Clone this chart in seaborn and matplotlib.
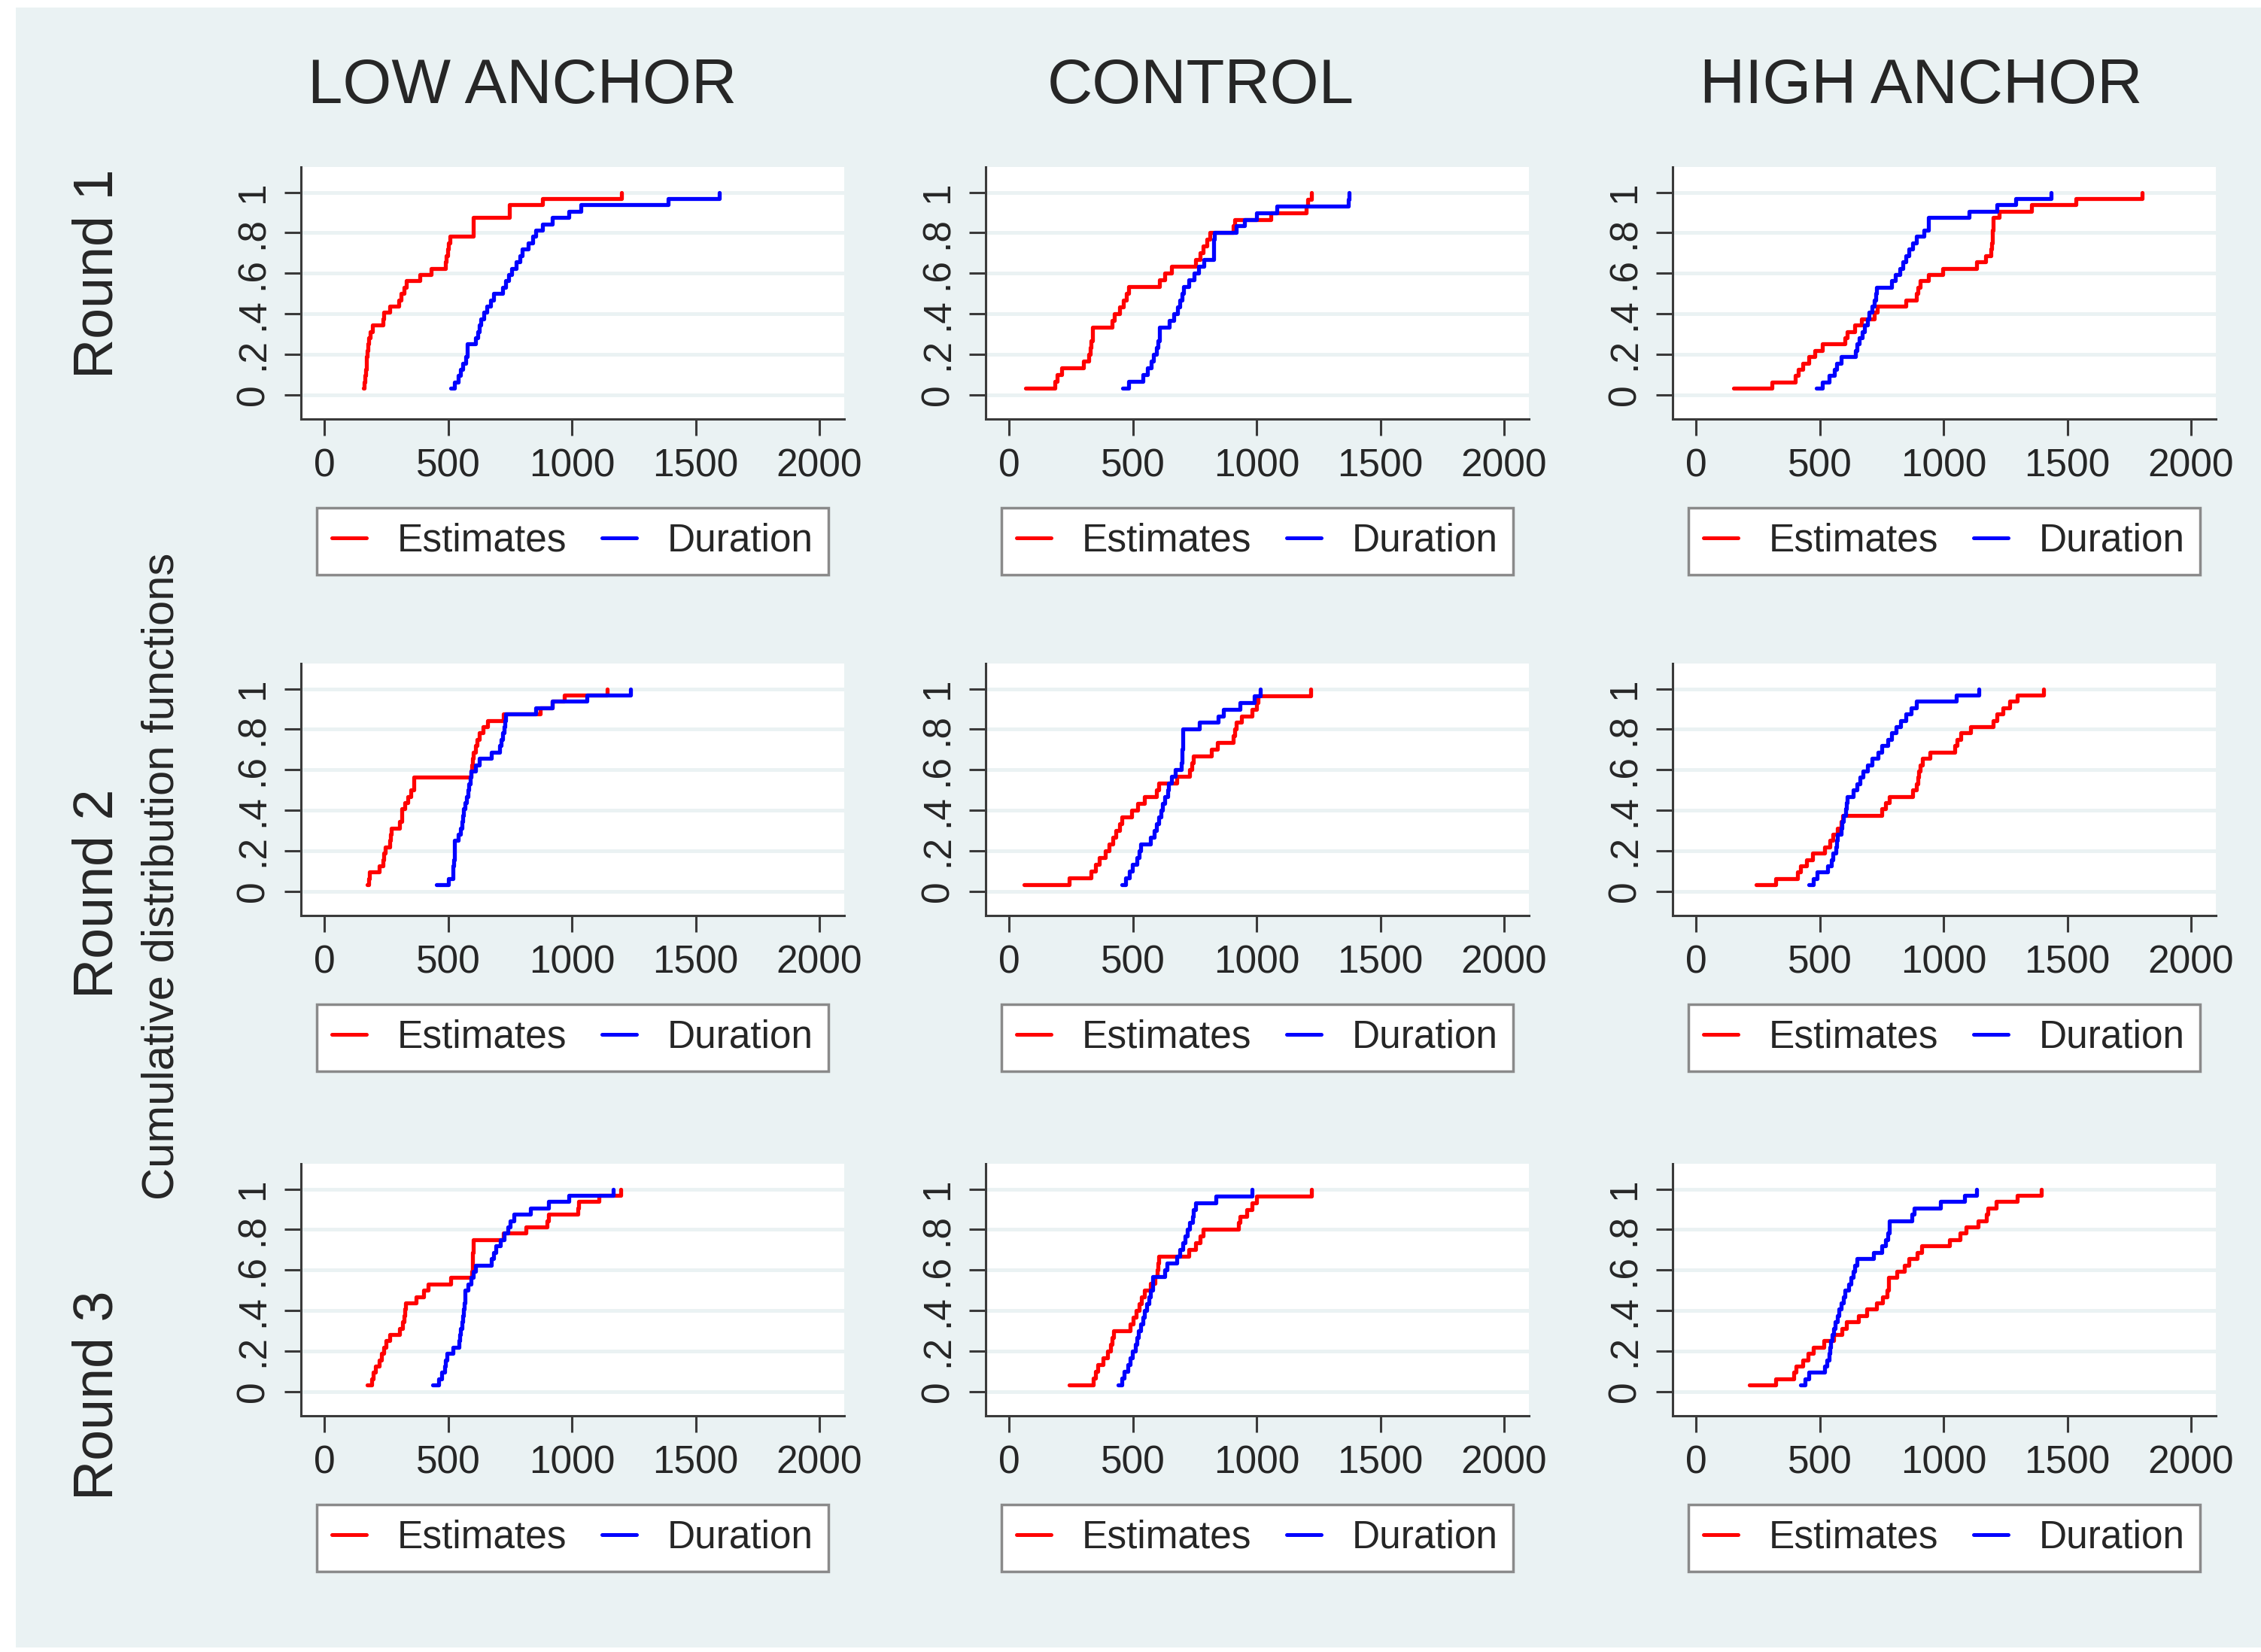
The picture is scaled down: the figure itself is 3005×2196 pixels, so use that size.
import numpy as np
import pandas as pd
import seaborn as sns
import matplotlib.pyplot as plt
from matplotlib.patches import Rectangle
from matplotlib.lines import Line2D

treatments = ["LOW ANCHOR", "CONTROL", "HIGH ANCHOR"]
rounds = ["Round 1", "Round 2", "Round 3"]
series_names = ["Estimates", "Duration"]
x_ticks = [0, 500, 1000, 1500, 2000]
y_ticks = [0, 0.2, 0.4, 0.6, 0.8, 1]
y_tick_labels = ["0", ".2", ".4", ".6", ".8", "1"]

# sorted values (one list per curve)
low_r1_est = [156, 160, 163, 165, 168, 170, 172, 175, 180, 185, 195, 235, 240, 265, 300, 310,
              320, 330, 385, 430, 490, 493, 497, 502, 506, 600, 600, 600, 748, 748, 880, 1200]
low_r1_dur = [510, 525, 540, 551, 560, 570, 576, 576, 610, 618, 626, 633, 645, 655, 671, 683,
              720, 732, 745, 757, 775, 790, 798, 822, 840, 855, 880, 921, 987, 1036, 1390, 1595]
ctl_r1_est = [66, 184, 195, 213, 300, 320, 328, 332, 336, 336, 415, 426, 445, 460, 475,
              484, 607, 630, 656, 754, 770, 785, 800, 811, 905, 910, 1057, 1200, 1205, 1221]
ctl_r1_dur = [459, 484, 541, 560, 575, 582, 595, 600, 607, 607, 648, 665, 680, 690, 700,
              705, 725, 746, 765, 787, 825, 826, 827, 828, 918, 951, 1000, 1082, 1369, 1374]
high_r1_est = [151, 307, 400, 413, 430, 454, 480, 511, 602, 610, 640, 667, 720, 733, 848, 889,
               895, 905, 938, 995, 1134, 1170, 1192, 1195, 1197, 1198, 1200, 1200, 1225, 1356, 1536, 1803]
high_r1_dur = [487, 511, 536, 560, 569, 585, 643, 650, 659, 670, 680, 692, 700, 710, 720, 725,
               730, 790, 805, 823, 835, 848, 860, 875, 889, 921, 938, 938, 1102, 1216, 1290, 1434]

low_r2_est = [173, 178, 181, 222, 235, 240, 247, 265, 268, 271, 304, 312, 312, 325, 337, 350,
              362, 362, 592, 596, 598, 600, 610, 615, 625, 640, 658, 724, 872, 921, 970, 1143]
low_r2_dur = [452, 502, 518, 520, 522, 524, 525, 526, 540, 551, 556, 560, 563, 567, 575, 580,
              584, 588, 592, 610, 625, 674, 707, 715, 720, 725, 728, 732, 855, 921, 1061, 1237]
ctl_r2_est = [61, 241, 330, 348, 365, 389, 405, 418, 430, 445, 455, 496, 520, 545, 595,
              603, 677, 730, 737, 743, 817, 842, 905, 910, 916, 940, 981, 1000, 1005, 1218]
ctl_r2_dur = [456, 470, 485, 498, 515, 525, 531, 571, 585, 595, 605, 612, 620, 630, 640,
              645, 655, 670, 694, 697, 700, 702, 703, 703, 768, 845, 867, 932, 990, 1014]
high_r2_est = [241, 323, 410, 421, 445, 470, 520, 540, 552, 570, 585, 593, 749, 765, 782, 875,
               889, 895, 900, 905, 913, 946, 1044, 1055, 1069, 1110, 1200, 1216, 1240, 1266, 1298, 1405]
high_r2_dur = [456, 475, 489, 530, 545, 554, 565, 568, 571, 585, 590, 595, 603, 607, 611, 636,
               650, 661, 675, 693, 710, 734, 750, 775, 790, 807, 825, 848, 870, 889, 1052, 1143]

low_r3_est = [173, 190, 197, 206, 220, 230, 239, 250, 263, 304, 315, 320, 325, 329, 370, 400,
              419, 510, 595, 597, 598, 599, 600, 600, 724, 814, 900, 904, 1025, 1028, 1110, 1197]
low_r3_dur = [436, 461, 475, 485, 490, 494, 520, 543, 547, 551, 555, 558, 561, 564, 567, 567,
              580, 592, 600, 609, 675, 683, 691, 710, 725, 740, 750, 765, 831, 904, 987, 1168]
ctl_r3_est = [242, 340, 350, 357, 380, 398, 410, 415, 423, 488, 500, 513, 525, 535, 546,
              571, 590, 597, 600, 603, 727, 752, 770, 784, 925, 933, 960, 981, 998, 1220]
ctl_r3_dur = [441, 455, 465, 480, 490, 498, 510, 516, 522, 530, 539, 547, 555, 565, 572,
              580, 580, 630, 637, 678, 690, 702, 710, 719, 730, 740, 745, 752, 834, 981]
high_r3_est = [215, 321, 395, 405, 430, 451, 475, 516, 557, 590, 606, 655, 688, 729, 754, 770,
               779, 779, 811, 840, 861, 893, 910, 1025, 1066, 1090, 1139, 1172, 1180, 1213, 1298, 1396]
high_r3_dur = [421, 440, 454, 520, 528, 536, 540, 544, 550, 556, 561, 570, 578, 585, 595, 602,
               615, 625, 634, 642, 651, 716, 749, 766, 775, 782, 782, 872, 880, 987, 1085, 1134]

panels = {
    ("LOW ANCHOR", "Round 1"): (low_r1_est, low_r1_dur),
    ("CONTROL", "Round 1"): (ctl_r1_est, ctl_r1_dur),
    ("HIGH ANCHOR", "Round 1"): (high_r1_est, high_r1_dur),
    ("LOW ANCHOR", "Round 2"): (low_r2_est, low_r2_dur),
    ("CONTROL", "Round 2"): (ctl_r2_est, ctl_r2_dur),
    ("HIGH ANCHOR", "Round 2"): (high_r2_est, high_r2_dur),
    ("LOW ANCHOR", "Round 3"): (low_r3_est, low_r3_dur),
    ("CONTROL", "Round 3"): (ctl_r3_est, ctl_r3_dur),
    ("HIGH ANCHOR", "Round 3"): (high_r3_est, high_r3_dur),
}

rows = []
for (treat, rnd), pair in panels.items():
    for name, vals in zip(series_names, pair):
        vals = np.sort(np.asarray(vals, dtype=float))
        n = len(vals)
        for i, v in enumerate(vals):
            rows.append((treat, rnd, name, v, (i + 1) / n))
df = pd.DataFrame(rows, columns=["treatment", "round", "series", "value", "cdf"])

sns.set_style("white")
plt.rcParams["font.family"] = ["Liberation Sans", "DejaVu Sans"]

W, H = 3005, 2196
BG = "#EAF2F3"
AX = "#3a3a3a"
palette = {"Estimates": "#FF0000", "Duration": "#0000FF"}

fig = plt.figure(figsize=(W / 100, H / 100), dpi=100)
fig.patch.set_facecolor("white")
fig.patches.append(Rectangle((21 / W, 6 / H), (W - 21) / W, (H - 16) / H,
                             transform=fig.transFigure, facecolor=BG, edgecolor="none", zorder=-10))

col_left = [400, 1310, 2223]
row_top = [222, 882, 1547]
ax_w, ax_h = 722, 335

for r, rnd in enumerate(rounds):
    for c, treat in enumerate(treatments):
        ax = fig.add_axes([col_left[c] / W, 1 - (row_top[r] + ax_h) / H, ax_w / W, ax_h / H])
        ax.set_facecolor("white")
        sub = df[(df["treatment"] == treat) & (df["round"] == rnd)]
        sns.lineplot(data=sub, x="value", y="cdf", hue="series", palette=palette,
                     hue_order=series_names, estimator=None, drawstyle="steps-post",
                     linewidth=3.8, legend=False, ax=ax)
        ax.set_xlim(-95, 2100)
        ax.set_ylim(-0.12, 1.125)
        ax.set_xticks(x_ticks)
        ax.set_xticklabels([str(t) for t in x_ticks])
        ax.set_yticks(y_ticks)
        ax.set_yticklabels(y_tick_labels, rotation=90, va="center")
        ax.set_xlabel("")
        ax.set_ylabel("")
        ax.grid(axis="y", color=BG, linewidth=3.5)
        ax.grid(axis="x", visible=False)
        ax.set_axisbelow(True)
        for s in ["top", "right"]:
            ax.spines[s].set_visible(False)
        for s in ["left", "bottom"]:
            ax.spines[s].set_color(AX)
            ax.spines[s].set_linewidth(2.2)
        ax.tick_params(axis="both", direction="out", length=16, width=2.2, color=AX,
                       labelsize=37, pad=12, left=True, bottom=True)
        handles = [Line2D([0], [0], color=palette[s], linewidth=3.6) for s in series_names]
        leg = ax.legend(handles, series_names, loc="center", bbox_to_anchor=(0.5, -0.485),
                        ncol=2, frameon=True, fancybox=False, fontsize=37,
                        handlelength=0.9, handletextpad=0.8, columnspacing=0.9,
                        borderpad=0.38, borderaxespad=0)
        leg.get_frame().set_edgecolor("#8a8a8a")
        leg.get_frame().set_linewidth(2.5)
        leg.get_frame().set_facecolor("white")
        leg.get_frame().set_alpha(1)

title_x = [694, 1596, 2553]
for t, x in zip(treatments, title_x):
    fig.text(x / W, 1 - 115 / H, t, ha="center", va="center", fontsize=60)

round_y = [364, 1188, 1855]
for t, y in zip(rounds, round_y):
    fig.text(130 / W, 1 - y / H, t, ha="center", va="center", rotation=90, fontsize=53)

fig.text(215 / W, 1 - 1165 / H, "Cumulative distribution functions", ha="center",
         va="center", rotation=90, fontsize=43)

fig.savefig("out.png", dpi=100, facecolor=fig.get_facecolor())
